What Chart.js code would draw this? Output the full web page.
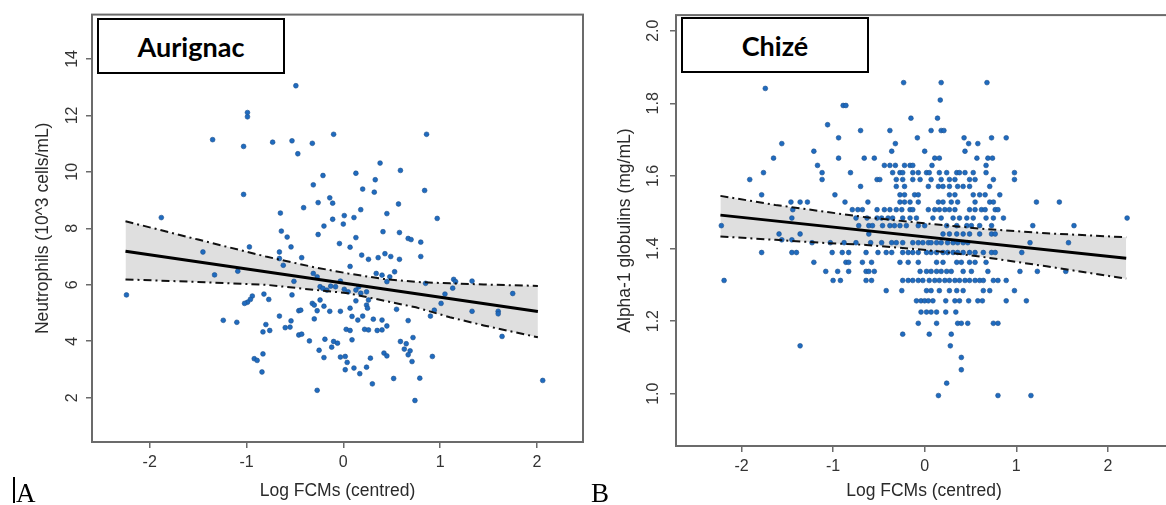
<!DOCTYPE html>
<html>
<head>
<meta charset="utf-8">
<script src="https://cdn.jsdelivr.net/npm/chart.js"></script>
<style>
  body { margin:0; background:#fff; width:1166px; height:505px; overflow:hidden; position:relative; }
  .panel { position:absolute; top:0; }
  .tag { position:absolute; box-sizing:border-box; border:2px solid #000; background:#fff;
         font-family:Lato, "Open Sans", sans-serif; font-weight:bold; font-size:27px; color:#000;
         display:flex; align-items:center; justify-content:center; }
  .letter { position:absolute; font-family:"Liberation Serif", "DejaVu Serif", serif; font-size:27px; line-height:1; color:#000; }
  .bar { position:absolute; background:#000; }
</style>
</head>
<body>
<div class="panel" style="left:0;width:600px;height:505px"><canvas id="chartA" width="600" height="505"></canvas></div>
<div class="panel" style="left:583px;width:600px;height:505px"><canvas id="chartB" width="600" height="505"></canvas></div>
<div class="tag" style="left:97px;top:18px;width:188px;height:56px">Aurignac</div>
<div class="tag" style="left:681px;top:17px;width:188px;height:56px">Chizé</div>
<div class="bar" style="left:13px;top:477px;width:1.5px;height:26px"></div>
<div class="letter" style="left:16px;top:480px">A</div>
<div class="letter" style="left:591px;top:480px">B</div>
<script>
// ---- panel A : Aurignac, neutrophils ----
var aurX = [-0.49,-0.99,-0.99,-1.35,-1.03,-0.73,-0.53,-0.47,-1.03,-0.65,-1.88,-0.64,-0.58,-0.97,-0.54,-0.66,-1.45,
  -0.66,-0.62,-1.33,-1.09,-2.24,-0.51,-0.53,-0.82,-0.77,-0.94,-0.96,-0.99,-1.02,-0.46,-1.24,-1.10,-0.66,-0.54,
  -0.60,-0.55,-0.80,-0.83,-0.76,-0.46,-0.83,-0.92,-0.89,-0.84,
  -0.10,0.86,-0.32,0.38,0.59,0.13,-0.21,0.33,-0.31,0.20,0.32,0.84,-0.14,-0.11,-0.26,0.57,-0.41,0.18,0.45,0.01,
  0.11,-0.11,0.97,0.00,-0.20,0.41,0.58,-0.26,0.67,0.70,0.80,0.13,-0.04,0.07,0.19,-0.43,0.26,0.36,0.43,0.49,0.58,0.80,
  0.07,0.34,0.40,0.48,0.53,0.45,-0.31,-0.27,-0.03,-0.08,-0.13,-0.17,-0.24,-0.21,0.13,0.16,0.18,0.24,0.01,0.05,
  0.26,0.24,0.25,0.13,-0.32,-0.30,-0.24,-0.20,-0.14,-0.44,-0.03,0.07,0.09,0.15,0.20,0.31,0.40,0.45,0.55,0.67,
  -0.30,-0.27,0.03,0.07,0.09,0.22,0.26,0.35,0.40,-0.43,-0.35,-0.19,-0.12,-0.10,-0.06,-0.25,-0.20,-0.03,0.02,0.04,
  0.02,0.11,0.17,0.24,0.28,0.42,0.45,0.30,0.52,-0.27,0.59,0.65,0.63,0.69,0.67,0.71,0.72,0.79,0.74,0.92,
  0.90,0.94,1.01,1.05,1.14,1.16,1.13,1.33,1.33,1.60,1.60,1.64,1.75,2.06,0.85];
var aurY = [13.05,12.10,11.95,11.14,10.90,11.05,11.10,10.64,9.20,8.54,8.38,7.90,7.69,7.34,7.34,7.16,7.16,
  6.93,6.69,6.35,6.48,5.64,6.12,5.64,5.67,5.48,5.60,5.48,5.38,5.34,5.08,4.74,4.67,4.89,4.72,
  4.48,4.50,4.59,4.33,4.38,4.22,3.55,3.38,3.32,2.91,
  11.33,11.33,11.01,10.31,10.05,9.95,9.87,9.72,9.54,9.39,9.28,9.34,9.08,8.89,8.91,8.86,8.73,8.66,8.52,8.45,
  8.38,8.32,8.35,8.15,8.08,7.88,7.85,7.78,7.64,7.60,7.51,7.67,7.46,7.33,7.05,6.96,6.90,6.96,7.10,7.00,6.90,7.00,
  6.65,6.40,6.34,6.28,6.46,6.11,6.40,6.28,6.13,5.93,5.95,5.81,5.93,5.87,5.81,5.93,5.70,5.75,5.84,5.75,
  5.46,5.28,5.17,5.43,5.34,5.28,5.46,5.24,5.06,5.10,5.06,5.17,4.88,4.75,4.89,4.78,4.75,4.54,5.13,4.73,
  4.79,5.08,4.42,4.38,4.05,4.42,4.40,4.38,4.40,4.25,4.01,4.07,3.79,3.99,3.93,3.68,3.42,3.44,3.46,3.25,
  2.99,3.05,2.85,3.08,3.40,3.58,3.48,2.49,2.68,2.26,3.99,3.91,3.72,3.66,3.52,3.28,4.13,2.69,1.90,3.46,
  4.89,5.10,5.34,5.67,6.19,6.11,5.88,6.13,5.06,5.06,4.97,4.17,5.69,2.61,6.05];
var aurFitX = [-2.25, 2.01];
var aurFitY = [7.19, 5.05];
var aurBandX = [-2.25, -1.5, -0.8, -0.3, 0.05, 0.4, 0.75, 1.1, 1.45, 2.01];
var aurUpper = [8.25, 7.60, 7.00, 6.62, 6.40, 6.21, 6.10, 6.05, 6.01, 5.96];
var aurLower = [6.19, 6.10, 6.00, 5.82, 5.70, 5.45, 5.20, 4.85, 4.56, 4.14];
var aurXTicks = [-2, -1, 0, 1, 2];
var aurYTicks = [2, 4, 6, 8, 10, 12, 14];

// ---- panel B : Chize, alpha-1 globulins (values sit on discrete levels) ----
var chiLevels = [1.857,1.841,1.809,1.794,1.759,1.741,1.725,1.705,1.689,1.668,1.649,1.629,1.609,1.590,1.571,1.548,
  1.528,1.507,1.484,1.463,1.440,1.424,1.416,1.389,1.362,1.337,1.312,1.284,1.256,1.225,1.194,1.164,1.132,1.100,
  1.066,1.029,0.995];
var chiLevelX = [
  [-0.23,0.18,0.68],
  [-1.74],
  [0.17],
  [-0.89,-0.86],
  [-0.15,0.14],
  [-1.06],
  [-0.70,-0.38,0.07,0.18,0.21],
  [-0.94,-0.08,0.43,0.73,0.89],
  [-1.56,-0.32,0.48,0.58],
  [-1.21,-0.36,0.00,0.44],
  [-1.65,-0.94,-0.66,-0.55,0.11,0.16,0.57,0.69,0.74],
  [-1.17,-0.44,-0.38,-0.32,-0.22,-0.16,-0.13,0.08,0.67],
  [-1.76,-1.12,-0.81,-0.35,-0.27,-0.24,-0.13,-0.07,0.02,0.05,0.16,0.24,0.35,0.38,0.44,0.53,0.67,0.98],
  [-1.91,-1.12,-0.52,-0.49,-0.31,-0.24,-0.13,-0.05,0.07,0.18,0.27,0.33,0.49,0.55,0.75,0.98],
  [-0.70,-0.31,-0.22,0.04,0.15,0.20,0.27,0.36,0.42,0.49,0.71],
  [-1.78,-0.98,-0.27,-0.22,-0.11,-0.07,0.27,0.33,0.53,0.60,0.66,0.82],
  [-1.46,-1.36,-1.28,-0.87,-0.62,-0.27,-0.22,-0.16,-0.07,0.15,0.20,0.29,0.36,0.55,0.71,0.75,1.22,1.47],
  [-1.44,-0.79,-0.73,-0.68,-0.52,-0.44,-0.38,-0.31,-0.25,-0.16,-0.13,0.04,0.11,0.16,0.22,0.27,0.33,0.49,0.55,0.62,0.66,0.77,0.80],
  [-1.45,-0.75,-0.63,-0.52,-0.47,-0.40,-0.35,-0.24,-0.16,-0.09,0.09,0.18,0.31,0.38,0.46,0.53,0.67,0.75,0.86,2.21],
  [-2.22,-0.72,-0.61,-0.57,-0.46,-0.38,-0.33,-0.27,-0.20,-0.07,0.00,0.24,0.35,0.46,0.51,0.60,0.73,1.18,1.63],
  [-1.59,-1.36,-0.61,0.20,0.27,0.35,0.42,0.49,0.60,0.73,0.77],
  [-1.56,-1.45],
  [-1.23,-1.03,-0.88,-0.75,-0.59,-0.47,-0.36,-0.31,-0.24,-0.13,-0.07,-0.02,0.04,0.07,0.13,0.18,0.25,0.31,0.36,0.42,0.47,1.15,1.57],
  [-1.78,-1.45,-1.40,-1.01,-0.90,-0.83,-0.64,-0.51,-0.42,-0.36,-0.24,-0.18,-0.13,-0.07,0.02,0.07,0.13,0.20,0.25,0.31,0.36,0.42,0.49,0.55,0.64,0.73,0.77,1.06],
  [-1.21,-0.86,-0.83,-0.68,-0.58,-0.27,-0.18,-0.07,0.13,0.20,0.35,0.40,0.49,0.55,0.67],
  [-1.08,-0.95,-0.83,-0.64,-0.61,-0.55,-0.05,0.02,0.07,0.13,0.18,0.24,0.29,0.42,0.51,0.69,1.04,1.23,1.54],
  [-2.19,-1.00,-0.92,-0.64,-0.58,-0.24,-0.18,-0.13,-0.07,-0.02,0.05,0.11,0.16,0.22,0.27,0.33,0.38,0.44,0.49,0.55,0.60,0.64,0.75,0.80,0.89],
  [-0.42,-0.25,0.02,0.07,0.16,0.27,0.35,0.42,0.64,0.71,0.98],
  [-0.09,-0.04,0.00,0.04,0.09,0.23,0.33,0.38,0.48,0.58,0.63,0.89,1.11],
  [-0.04,0.02,0.07,0.13,0.23,0.34],
  [-0.07,0.13,0.36,0.40,0.47,0.75,0.80],
  [-0.24,0.05,0.29],
  [-1.36,0.28],
  [0.40],
  [0.40],
  [0.24],
  [0.15,0.80,1.16]
];
var chiFitX = [-2.23, 2.20];
var chiFitY = [1.492, 1.373];
var chiBandX = [-2.23, -1.63, -1.08, -0.64, 0.02, 0.60, 1.33, 2.20];
var chiUpper = [1.545, 1.520, 1.501, 1.486, 1.469, 1.455, 1.442, 1.431];
var chiLower = [1.433, 1.424, 1.415, 1.410, 1.396, 1.378, 1.351, 1.317];
var chiXTicks = [-2, -1, 0, 1, 2];
var chiYTicks = [1.0, 1.2, 1.4, 1.6, 1.8, 2.0];

var xTitle = 'Log FCMs (centred)';
var sansFont = '"Liberation Sans", Arial, sans-serif';

function pairs(xs, ys){
  var out = [];
  for (var i = 0; i < xs.length; i++){
    out.push({x: xs[i], y: ys[i]});
  }
  return out;
}

function levelPoints(levels, xsPerLevel){
  var out = [];
  for (var i = 0; i < levels.length; i++){
    for (var j = 0; j < xsPerLevel[i].length; j++){
      out.push({x: xsPerLevel[i][j], y: levels[i]});
    }
  }
  return out;
}

// grey frame round the plot region, like base R's box()
var boxPlugin = {
  id: 'plotBox',
  afterDraw: function(chart){
    var a = chart.chartArea, c = chart.ctx;
    c.save();
    c.strokeStyle = '#6b6b6b';
    c.lineWidth = 2;
    c.strokeRect(a.left, a.top, a.right - a.left, a.bottom - a.top);
    c.restore();
  }
};

function buildChart(id, p){
  var ctx = document.getElementById(id).getContext('2d');
  var tickGrid = {drawOnChartArea: false, drawTicks: true, tickLength: 6, color: '#6b6b6b', lineWidth: 1.5};
  return new Chart(ctx, {
    type: 'scatter',
    data: {
      datasets: [{
        data: p.points,
        pointRadius: 2.4,
        pointBackgroundColor: '#1f6bbf',
        pointBorderColor: '#1d4f8c',
        pointBorderWidth: 0.6,
        order: 3
      }, {
        type: 'line',
        data: p.upper,
        borderColor: '#111',
        borderWidth: 2,
        borderDash: [8, 4, 2, 4],
        pointRadius: 0,
        tension: 0,
        fill: false,
        order: 2
      }, {
        type: 'line',
        data: p.lower,
        borderColor: '#111',
        borderWidth: 2,
        borderDash: [8, 4, 2, 4],
        pointRadius: 0,
        tension: 0,
        fill: '-1',
        backgroundColor: '#dfdfdf',
        order: 2
      }, {
        type: 'line',
        data: p.fit,
        borderColor: '#000',
        borderWidth: 3,
        pointRadius: 0,
        fill: false,
        order: 1
      }]
    },
    options: {
      responsive: false,
      animation: false,
      events: [],
      layout: {padding: p.pad},
      plugins: {legend: {display: false}, tooltip: {enabled: false}, filler: {drawTime: 'beforeDatasetsDraw'}},
      scales: {
        x: {
          type: 'linear', min: p.xMin, max: p.xMax,
          afterBuildTicks: function(s){ s.ticks = p.xTicks.map(function(v){ return {value: v}; }); },
          afterFit: function(s){ s.height = p.xAxisH; },
          grid: tickGrid,
          border: {display: false},
          ticks: {padding: 5, color: '#333', maxRotation: 0, autoSkip: false, font: {size: 16, family: sansFont}},
          title: {display: true, text: xTitle, color: '#2a2a2a', font: {size: 17.5, family: sansFont}, padding: {top: 0, bottom: 3}}
        },
        y: {
          type: 'linear', min: p.yMin, max: p.yMax,
          afterBuildTicks: function(s){ s.ticks = p.yTicks.map(function(v){ return {value: v}; }); },
          afterFit: function(s){ s.width = p.yAxisW; },
          grid: tickGrid,
          border: {display: false},
          ticks: {padding: p.yTickPad, color: '#333', minRotation: 90, maxRotation: 90, crossAlign: 'center',
                  autoSkip: false, font: {size: 16, family: sansFont}, callback: p.yFmt},
          title: {display: true, text: p.yTitle, color: '#2a2a2a', font: {size: 17.5, family: sansFont}, padding: {top: p.yTitlePad, bottom: 0}}
        }
      }
    },
    plugins: [boxPlugin]
  });
}

buildChart('chartA', {
  points: pairs(aurX, aurY),
  upper: pairs(aurBandX, aurUpper),
  lower: pairs(aurBandX, aurLower),
  fit: pairs(aurFitX, aurFitY),
  xMin: -2.596, xMax: 2.476, yMin: 0.43, yMax: 15.57,
  xTicks: aurXTicks, yTicks: aurYTicks,
  yFmt: function(v){ return String(v); },
  yTitle: 'Neutrophils (10^3 cells/mL)',
  pad: {left: 0, right: 17, top: 14, bottom: 0},
  yAxisW: 92, xAxisH: 63, yTickPad: 5, yTitlePad: 33
});

buildChart('chartB', {
  points: levelPoints(chiLevels, chiLevelX),
  upper: pairs(chiBandX, chiUpper),
  lower: pairs(chiBandX, chiLower),
  fit: pairs(chiFitX, chiFitY),
  xMin: -2.715, xMax: 2.70, yMin: 0.856, yMax: 2.043,
  xTicks: chiXTicks, yTicks: chiYTicks,
  yFmt: function(v){ return v.toFixed(1); },
  yTitle: 'Alpha-1 globulins (mg/mL)',
  pad: {left: 0, right: 11, top: 13, bottom: 0},
  yAxisW: 93, xAxisH: 59, yTickPad: 5.5, yTitlePad: 32
});
</script>
</body>
</html>
